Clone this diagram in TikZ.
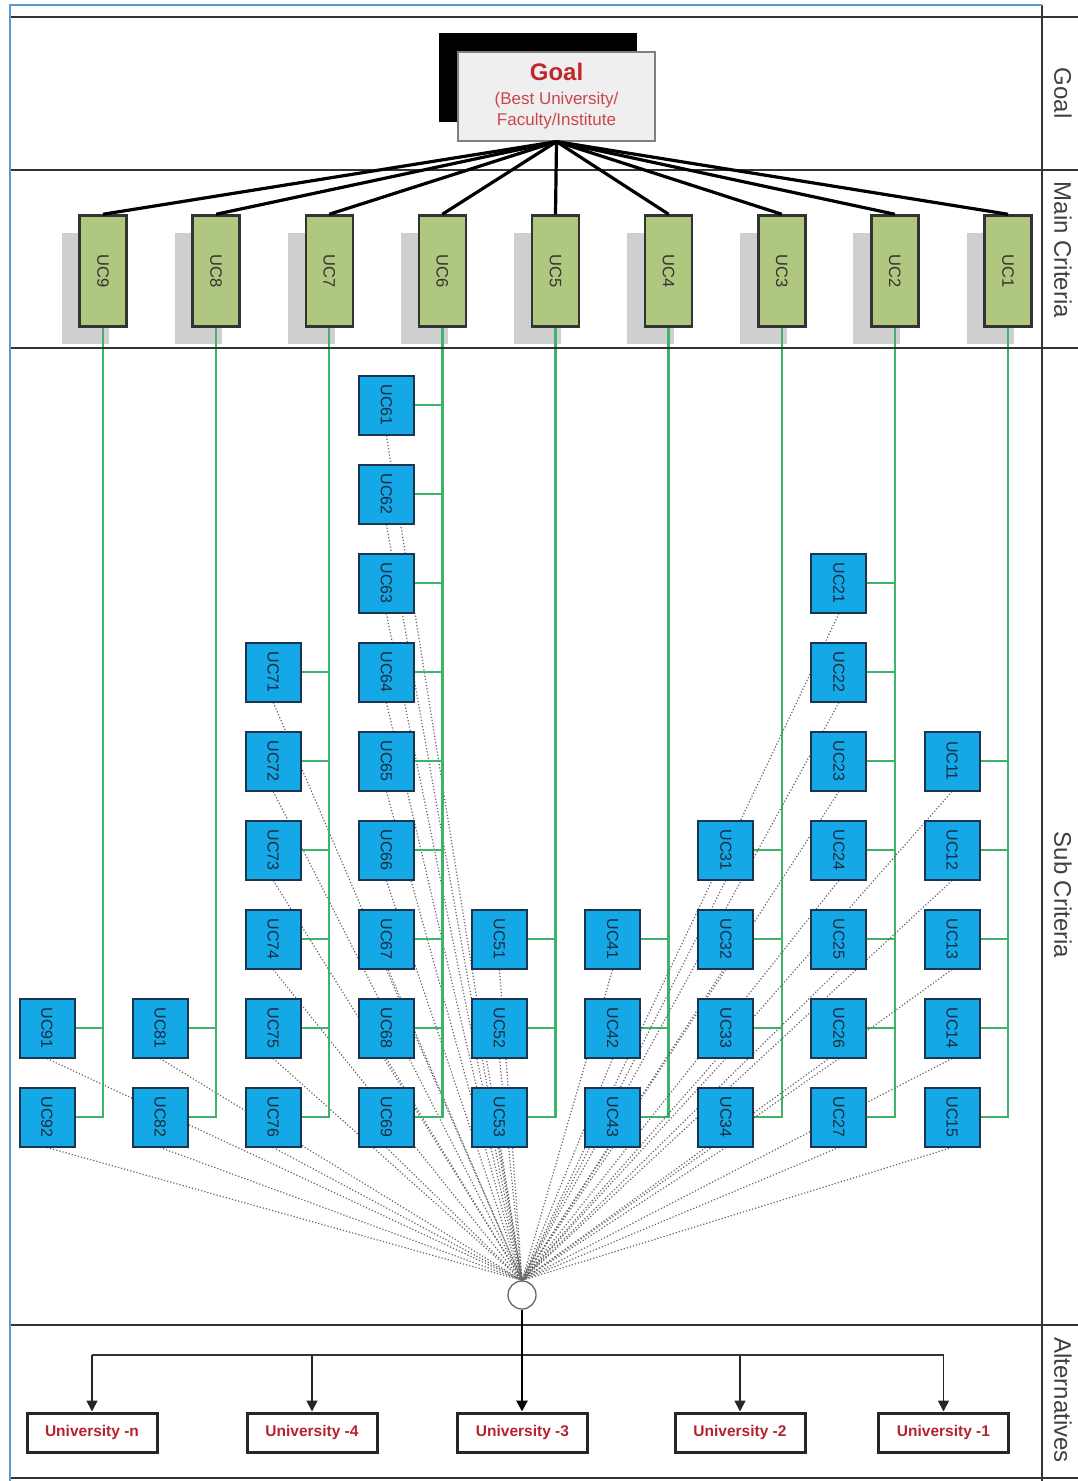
\documentclass[tikz,border=0pt]{standalone}
\usepackage{fontspec}
\setmainfont{Liberation Sans}
\usepackage{graphicx}
\usetikzlibrary{arrows.meta}
\definecolor{goalred}{HTML}{C0272D}
\definecolor{unired}{HTML}{B5232E}
\definecolor{mainfill}{HTML}{B0C77F}
\definecolor{subfill}{HTML}{14A8E6}
\definecolor{subdraw}{HTML}{1B3550}
\definecolor{subtext}{HTML}{1A2A40}
\definecolor{linkgreen}{HTML}{3DB36B}
\definecolor{frameblue}{HTML}{5B9BD5}
\definecolor{shadowgray}{HTML}{CFCFCF}
\definecolor{goalfill}{HTML}{EFEFEF}
\pgfdeclarelayer{bg}
\pgfsetlayers{bg,main}
\begin{document}
\begin{tikzpicture}[x=1pt,y=-1pt,
  mainbox/.style={draw=black!80,line width=2.5pt,fill=mainfill,minimum width=47pt,minimum height=111pt,inner sep=0pt,text=black!80,font=\fontsize{16.5}{16}\selectfont},
  subbox/.style={draw=subdraw,line width=2pt,fill=subfill,minimum width=55pt,minimum height=59pt,inner sep=0pt,text=subtext,font=\fontsize{16}{16}\selectfont},
  goalbox/.style={draw=black!50,line width=1.2pt,fill=goalfill,minimum width=197pt,minimum height=89pt,inner sep=0pt,align=center,text=goalred!85,font=\fontsize{17}{21}\selectfont},
  goalline/.style={black,line width=3.2pt},
  greenline/.style={linkgreen,line width=2.4pt},
  dotline/.style={black!60,line width=1.2pt,dotted},
  unibox/.style={draw=black!85,line width=3pt,fill=white,minimum width=130pt,minimum height=39pt,inner sep=0pt,text=unired,font=\fontsize{15.5}{16}\bfseries\selectfont},
  sidelabel/.style={rotate=-90,text=black!75,font=\fontsize{24}{24}\selectfont},
  arr/.style={-{Triangle[width=11pt,length=11pt]},black!85,line width=1.6pt},
  hubline/.style={-{Triangle[width=11pt,length=11pt]},black,line width=2.8pt},
  bus/.style={black!80,line width=1.8pt},
  frameline/.style={black!80,line width=2pt}]
\useasboundingbox (0,0) rectangle (1078,1481);
% frame
\draw[frameline] (10,17) -- (1078,17);
\draw[frameline] (10,170) -- (1078,170);
\draw[frameline] (10,348) -- (1078,348);
\draw[frameline] (10,1325) -- (1078,1325);
\draw[frameline] (10,1478) -- (1078,1478);
\draw[frameline] (1042,5) -- (1042,1481);
\draw[frameblue,line width=2.5pt] (10,1481) -- (10,5) -- (1042,5);
% side labels
\node[sidelabel] (lgoal) at (1063,93) {Goal};
\node[sidelabel] (lmain) at (1063,250) {Main Criteria};
\node[sidelabel] (lsub) at (1063,895) {Sub Criteria};
\node[sidelabel] (lalt) at (1063,1400) {Alternatives};
% goal
\fill[black] (439,33) rectangle (637,122);
\node[goalbox] (goal) at (556.5,96.5) {\textcolor{goalred}{\fontsize{24}{28}\bfseries\selectfont Goal}\\[3pt]
  (Best University/\\
  Faculty/Institute};
% main criteria
\foreach \i in {1,...,9}{
  \pgfmathsetmacro{\xm}{103+113.125*(9-\i)}
  \begin{pgfonlayer}{bg}
    \fill[shadowgray] (\xm-41.5,233) rectangle ++(47,111);
  \end{pgfonlayer}
  \node[mainbox] (m\i) at (\xm,271) {\rotatebox{-90}{UC\i}};
  \draw[goalline] (goal.south) -- (m\i.north);
}
% hub
\node[circle,draw=black!60,line width=1.3pt,fill=white,minimum size=28pt,inner sep=0pt] (hub) at (522,1295) {};
% sub criteria
\foreach \i/\n in {9/2,8/2,7/6,6/9,5/3,4/3,3/4,2/7,1/5}{
  \pgfmathsetmacro{\xs}{103+113.125*(9-\i)-56}
  \foreach \j in {1,...,\n}{
    \pgfmathsetmacro{\ys}{1117-89*(\n-\j)}
    \node[subbox] (s\i\j) at (\xs,\ys) {\rotatebox{-90}{UC\i\j}};
  }
  \begin{pgfonlayer}{bg}
    \foreach \j in {1,...,\n}{
      \draw[dotline] (s\i\j.south) -- (hub.north);
    }
    \draw[greenline] (m\i.south) |- (s\i\n.east);
    \foreach \j in {1,...,\n}{
      \draw[greenline] (s\i\j.east) -- (s\i\j.east -| m\i.south);
    }
  \end{pgfonlayer}
}
% alternatives
\node[unibox] (un) at (92,1432.5) {University -n};
\node[unibox] (u4) at (312,1432.5) {University -4};
\node[unibox] (u3) at (522.5,1432.5) {University -3};
\node[unibox] (u2) at (740,1432.5) {University -2};
\node[unibox] (u1) at (943.5,1432.5) {University -1};
\coordinate (busc) at (522,1355);
\draw[bus] (un.north |- busc) -- (u1.north |- busc);
\draw[arr] (un.north |- busc) -- (un.north);
\draw[arr] (u4.north |- busc) -- (u4.north);
\draw[arr] (u2.north |- busc) -- (u2.north);
\draw[arr] (u1.north |- busc) -- (u1.north);
\draw[hubline] (hub.south) -- (hub.south |- u3.north);
\end{tikzpicture}
\end{document}
